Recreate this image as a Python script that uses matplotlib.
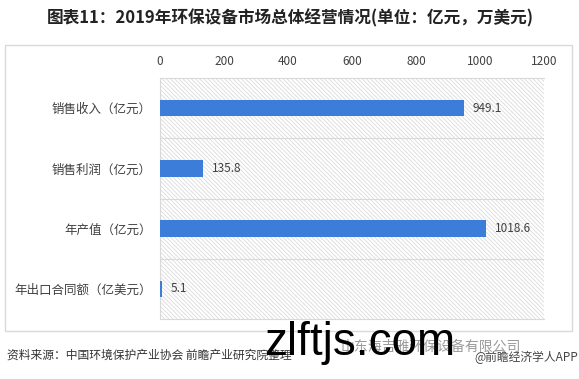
import matplotlib
matplotlib.use("Agg")
import matplotlib.pyplot as plt
from matplotlib.patches import Rectangle

plt.rcParams['font.family'] = ['Noto Sans CJK SC', 'DejaVu Sans']

categories = ["销售收入（亿元）", "销售利润（亿元）", "年产值（亿元）", "年出口合同额（亿美元）"]
values = [949.1, 135.8, 1018.6, 5.1]
value_labels = ["949.1", "135.8", "1018.6", "5.1"]
xticks = [0, 200, 400, 600, 800, 1000, 1200]
title = "图表11：2019年环保设备市场总体经营情况(单位：亿元，万美元)"
source = "资料来源：中国环境保护产业协会 前瞻产业研究院整理"

W, H = 579, 379
fig = plt.figure(figsize=(W / 100, H / 100), dpi=100)
fig.patch.set_facecolor("white")

# outer box
fig.add_artist(Rectangle((5 / W, 1 - 331 / H), (572 - 5) / W, (331 - 45) / H,
                         transform=fig.transFigure, facecolor="white",
                         edgecolor="#d9d9d9", linewidth=1.0, zorder=0))

ax_l, ax_r, ax_t, ax_b = 160, 544, 78, 319
ax = fig.add_axes([ax_l / W, 1 - ax_b / H, (ax_r - ax_l) / W, (ax_b - ax_t) / H])
ax.set_facecolor("white")
plt.rcParams['hatch.linewidth'] = 0.6
ax.add_patch(Rectangle((0, 0), 1, 1, transform=ax.transAxes, facecolor="white",
                       edgecolor="#dadada", hatch="\\\\\\\\\\\\\\\\", linewidth=0, zorder=0))

ypos = list(range(len(categories)))
ax.barh(ypos, values, height=0.27, color="#3b7dd8", zorder=3)
for y, v, lab in zip(ypos, values, value_labels):
    ax.text(v + 27, y, lab, va="center", ha="left", fontsize=8.5, color="#404040", zorder=4)

for b in [0.5, 1.5, 2.5]:
    ax.axhline(b, color="#d9d9d9", linewidth=0.8, zorder=1)

ax.set_xlim(0, 1200)
ax.set_ylim(3.5, -0.5)
ax.set_yticks(ypos)
ax.set_yticklabels(categories, fontsize=9, color="#404040")
ax.set_xticks(xticks)
ax.set_xticklabels([str(t) for t in xticks], fontsize=8.5, color="#404040")
ax.xaxis.tick_top()
ax.tick_params(axis="both", length=0)
ax.tick_params(axis="x", pad=7)
ax.tick_params(axis="y", pad=6)
for s in ["top", "bottom", "left"]:
    ax.spines[s].set_color("#d9d9d9")
    ax.spines[s].set_linewidth(0.8)
ax.spines["right"].set_visible(False)

fig.text(290 / W, 1 - 18 / H, title, ha="center", va="center", fontsize=12,
         fontweight="bold", color="#222222")
fig.text(7 / W, 1 - 355 / H, source, ha="left", va="center", fontsize=8.5, color="#333333")
fig.text(340 / W, 1 - 347 / H, "山东海吉雅环保设备有限公司", ha="left", va="center",
         fontsize=10, color="#9a9a9a")
fig.text(578 / W, 1 - 357 / H, "@前瞻经济学人APP", ha="right", va="center",
         fontsize=8.5, color="#444444")
fig.text(360 / W, 1 - 355 / H, "zlftjs.com", ha="center", va="baseline",
         fontsize=33, color="black", family=["Liberation Sans", "DejaVu Sans"])

fig.savefig("out.png", dpi=100)
